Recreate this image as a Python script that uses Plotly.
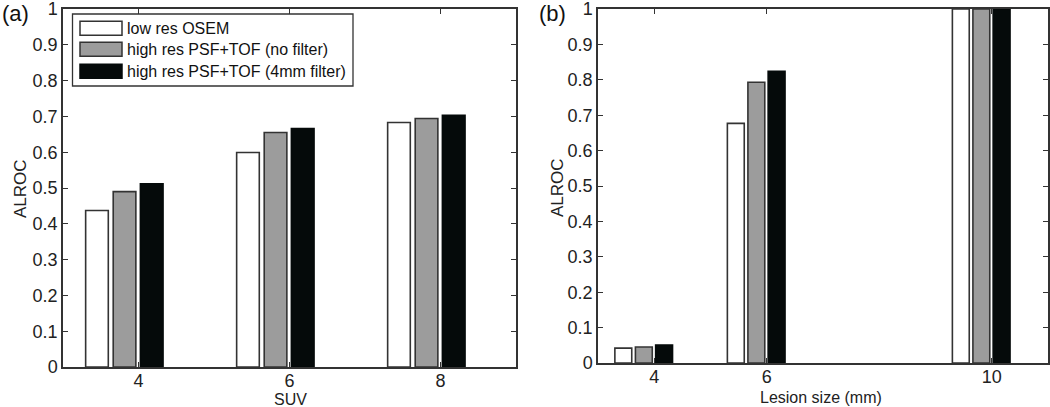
import plotly.graph_objects as go

# ---- data ----
series_names = ["low res OSEM", "high res PSF+TOF (no filter)", "high res PSF+TOF (4mm filter)"]
suv = [4, 6, 8]
alroc_suv_low = [0.437, 0.599, 0.683]
alroc_suv_nofilt = [0.490, 0.655, 0.694]
alroc_suv_filt = [0.512, 0.666, 0.703]

lesion_size = [4, 6, 10]
alroc_size_low = [0.042, 0.677, 1.0]
alroc_size_nofilt = [0.045, 0.793, 1.0]
alroc_size_filt = [0.051, 0.824, 1.0]

y_ticks = [round(i * 0.1, 1) for i in range(11)]
y_ticktext = ["0", "0.1", "0.2", "0.3", "0.4", "0.5", "0.6", "0.7", "0.8", "0.9", "1"]

# ---- style ----
W, H = 1050, 407
FONT = "Liberation Sans, Arial, sans-serif"
fills = ["#ffffff", "#9c9c9c", "#050a0a"]
edges = ["#333333", "#333333", "#050a0a"]
offsets = [-0.70, -0.335, 0.025]
BW = 0.30

fig = go.Figure()

panel_a = [alroc_suv_low, alroc_suv_nofilt, alroc_suv_filt]
panel_b = [alroc_size_low, alroc_size_nofilt, alroc_size_filt]

for i, name in enumerate(series_names):
    fig.add_trace(go.Bar(x=suv, y=panel_a[i], name=name, width=BW, offset=offsets[i],
                         marker=dict(color=fills[i], line=dict(color=edges[i], width=1.6)),
                         xaxis="x", yaxis="y", showlegend=False))
    fig.add_trace(go.Bar(x=lesion_size, y=panel_b[i], name=name, width=BW, offset=offsets[i],
                         marker=dict(color=fills[i], line=dict(color=edges[i], width=1.6)),
                         xaxis="x2", yaxis="y2", showlegend=False))

def px(x):
    return x / W

def py(y):
    return 1 - y / H

axis_common = dict(showline=True, linecolor="#333333", linewidth=1.5, mirror="ticks",
                   ticks="inside", ticklen=5, tickwidth=1.2, tickcolor="#333333",
                   showgrid=False, zeroline=False, automargin=False,
                   ticklabeloverflow="allow",
                   tickfont=dict(family=FONT, size=18, color="#222222"))
xaxis_extra = dict(ticklabelstandoff=-3)

fig.update_layout(
    width=W, height=H,
    margin=dict(l=0, r=0, t=0, b=0, pad=0, autoexpand=False),
    paper_bgcolor="white", plot_bgcolor="white",
    barmode="overlay",
    xaxis=dict(domain=[px(63), px(516)], range=[3, 9], tickvals=suv, anchor="y",
               **axis_common, **xaxis_extra),
    yaxis=dict(domain=[py(367), py(9)], range=[0, 1], tickvals=y_ticks, ticktext=y_ticktext,
               anchor="x", **axis_common),
    xaxis2=dict(domain=[px(598), px(1048)], range=[3, 11], tickvals=lesion_size, anchor="y2",
                **axis_common, **xaxis_extra),
    yaxis2=dict(domain=[py(363), py(9)], range=[0, 1], tickvals=y_ticks, ticktext=y_ticktext,
                anchor="x2", **axis_common),
)

ann = []
ann.append(dict(text="(a)", x=px(0), y=py(14), xref="paper", yref="paper", xanchor="left",
                yanchor="middle", showarrow=False, font=dict(family=FONT, size=22, color="#111")))
ann.append(dict(text="(b)", x=px(552), y=py(14), xref="paper", yref="paper", xanchor="center",
                yanchor="middle", showarrow=False, font=dict(family=FONT, size=22, color="#111")))
ann.append(dict(text="ALROC", x=px(20), y=py(189), xref="paper", yref="paper", textangle=-90,
                xanchor="center", yanchor="middle", showarrow=False,
                font=dict(family=FONT, size=17, color="#222")))
ann.append(dict(text="ALROC", x=px(557), y=py(188), xref="paper", yref="paper", textangle=-90,
                xanchor="center", yanchor="middle", showarrow=False,
                font=dict(family=FONT, size=17, color="#222")))
ann.append(dict(text="SUV", x=px(290), y=py(399), xref="paper", yref="paper",
                xanchor="center", yanchor="middle", showarrow=False,
                font=dict(family=FONT, size=16, color="#222")))
ann.append(dict(text="Lesion size (mm)", x=px(821), y=py(397), xref="paper", yref="paper",
                xanchor="center", yanchor="middle", showarrow=False,
                font=dict(family=FONT, size=16, color="#222")))

# manual legend (panel a)
shapes = [dict(type="rect", xref="paper", yref="paper", x0=px(72.5), x1=px(353), y0=py(86), y1=py(14),
               line=dict(color="#333333", width=1.3), fillcolor="white", layer="above")]
row_y = [28.3, 49.2, 71.3]
for i, name in enumerate(series_names):
    shapes.append(dict(type="rect", xref="paper", yref="paper", x0=px(80), x1=px(122),
                       y0=py(row_y[i] + 7), y1=py(row_y[i] - 7),
                       line=dict(color=edges[i], width=1.5), fillcolor=fills[i], layer="above"))
    ann.append(dict(text=name, x=px(125), y=py(row_y[i]), xref="paper", yref="paper",
                    xanchor="left", yanchor="middle", showarrow=False,
                    font=dict(family=FONT, size=16, color="#111")))

fig.update_layout(annotations=ann, shapes=shapes)

fig.write_html("out.html", config={"displayModeBar": False},
               post_script="document.body.style.margin='0px';document.body.style.padding='0px';")
